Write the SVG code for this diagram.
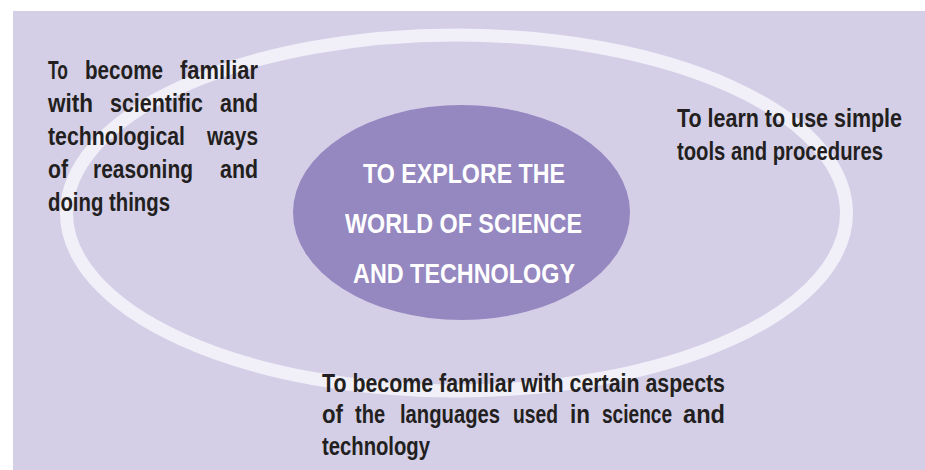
<svg xmlns="http://www.w3.org/2000/svg" width="925" height="470" viewBox="0 0 925 470">
<style>
.t{font-family:"Liberation Sans Narrow","Liberation Sans",Arial,sans-serif;font-weight:700;font-size:26px;fill:#231f20}
.c{font-family:"Liberation Sans Narrow","Liberation Sans",Arial,sans-serif;font-weight:700;font-size:28px;fill:#ffffff;text-anchor:middle}
</style>
<rect x="0" y="0" width="925" height="470" fill="#ffffff"/>
<rect x="13" y="11" width="912" height="459" fill="#d4cfe7"/>
<g id="connectors">
<ellipse cx="456.5" cy="213" rx="390" ry="178" fill="none" stroke="#f1eff8" stroke-width="13"/>
</g>
<g id="center">
<ellipse cx="461.5" cy="212.5" rx="168.5" ry="107.5" fill="#9587c0"/>
<text class="c" x="464" y="183" textLength="202" lengthAdjust="spacingAndGlyphs">TO EXPLORE THE</text>
<text class="c" x="463.5" y="233" textLength="237" lengthAdjust="spacingAndGlyphs">WORLD OF SCIENCE</text>
<text class="c" x="464" y="283" textLength="222" lengthAdjust="spacingAndGlyphs">AND TECHNOLOGY</text>
</g>
<g id="left">
<text class="t" x="48" y="79" textLength="20" lengthAdjust="spacingAndGlyphs">To</text>
<text class="t" x="85" y="79" textLength="78" lengthAdjust="spacingAndGlyphs">become</text>
<text class="t" x="180" y="79" textLength="78" lengthAdjust="spacingAndGlyphs">familiar</text>
<text class="t" x="48" y="112" textLength="45" lengthAdjust="spacingAndGlyphs">with</text>
<text class="t" x="110" y="112" textLength="93" lengthAdjust="spacingAndGlyphs">scientific</text>
<text class="t" x="220" y="112" textLength="38" lengthAdjust="spacingAndGlyphs">and</text>
<text class="t" x="48" y="145" textLength="137" lengthAdjust="spacingAndGlyphs">technological</text>
<text class="t" x="207" y="145" textLength="51" lengthAdjust="spacingAndGlyphs">ways</text>
<text class="t" x="48" y="178" textLength="20" lengthAdjust="spacingAndGlyphs">of</text>
<text class="t" x="93" y="178" textLength="100" lengthAdjust="spacingAndGlyphs">reasoning</text>
<text class="t" x="220" y="178" textLength="38" lengthAdjust="spacingAndGlyphs">and</text>
<text class="t" x="48" y="211" textLength="122" lengthAdjust="spacingAndGlyphs">doing things</text>
</g>
<g id="right">
<text class="t" x="677" y="127" textLength="225" lengthAdjust="spacingAndGlyphs">To learn to use simple</text>
<text class="t" x="677" y="160" textLength="206" lengthAdjust="spacingAndGlyphs">tools and procedures</text>
</g>
<g id="bottom">
<text class="t" x="322" y="392" textLength="403" lengthAdjust="spacingAndGlyphs">To become familiar with certain aspects</text>
<text class="t" x="322" y="423" textLength="21" lengthAdjust="spacingAndGlyphs">of</text>
<text class="t" x="355" y="423" textLength="30" lengthAdjust="spacingAndGlyphs">the</text>
<text class="t" x="400" y="423" textLength="100" lengthAdjust="spacingAndGlyphs">languages</text>
<text class="t" x="513" y="423" textLength="45" lengthAdjust="spacingAndGlyphs">used</text>
<text class="t" x="570" y="423" textLength="20" lengthAdjust="spacingAndGlyphs">in</text>
<text class="t" x="602" y="423" textLength="70" lengthAdjust="spacingAndGlyphs">science</text>
<text class="t" x="683" y="423" textLength="42" lengthAdjust="spacingAndGlyphs">and</text>
<text class="t" x="322" y="455" textLength="108" lengthAdjust="spacingAndGlyphs">technology</text>
</g>
</svg>
